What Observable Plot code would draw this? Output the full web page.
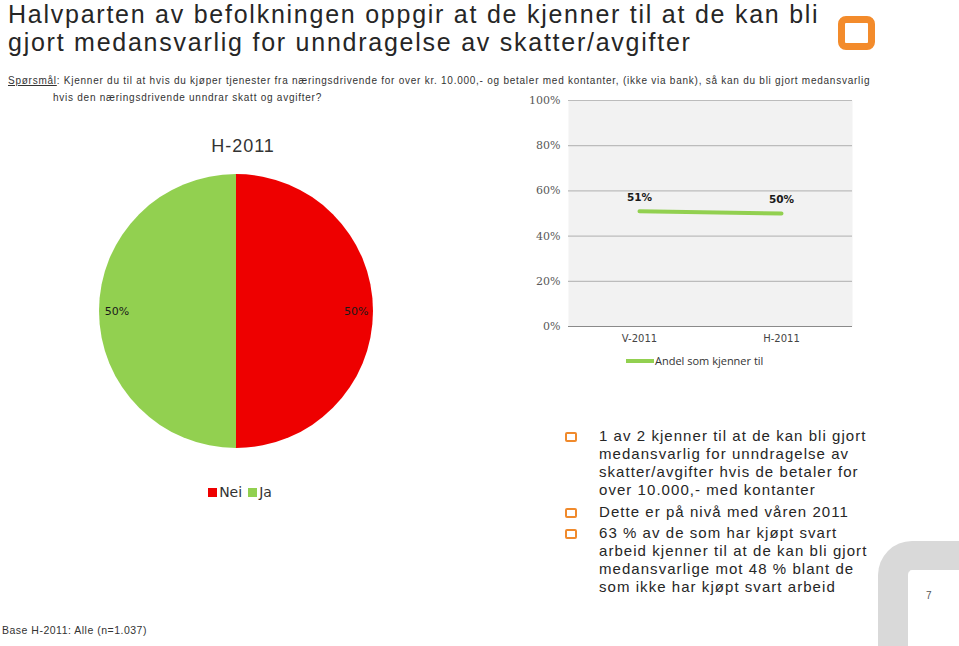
<!DOCTYPE html>
<html>
<head>
<meta charset="utf-8">
<script src="https://cdn.jsdelivr.net/npm/d3@7"></script>
<script src="https://cdn.jsdelivr.net/npm/@observablehq/plot@0.6"></script>
<style>
  html, body { margin: 0; padding: 0; background: #fff; }
  #page { position: relative; width: 959px; height: 646px; overflow: hidden; background: #fff; font-family: "Liberation Sans", Arial, sans-serif; color: #262626; }
  .abs { position: absolute; }
  #title { left: 8px; top: 0px; font-size: 25px; line-height: 28px; letter-spacing: 1.75px; color: #262626; white-space: nowrap; }
  #question { left: 8px; top: 72px; font-size: 10px; line-height: 17px; letter-spacing: 0.75px; color: #333; white-space: nowrap; }
  #question .q2 { padding-left: 45px; }
  #logo { left: 838px; top: 16px; width: 23px; height: 20px; border: 7px solid #f38b2b; border-radius: 8px; }
  #pieTitle { left: 163px; top: 136px; width: 160px; text-align: center; font-size: 18px; letter-spacing: 1px; color: #333; }
  #pieLegend { left: 190px; top: 484px; width: 100px; text-align: center; font-family: "DejaVu Sans", sans-serif; font-size: 14px; color: #333; white-space: nowrap; }
  .sw { display: inline-block; width: 9px; height: 9px; margin-right: 2px; }
  #lineLegend { left: 626px; top: 353px; font-family: "Open Sans", sans-serif; font-size: 11px; color: #333; white-space: nowrap; }
  #lineLegend .ln { display: inline-block; width: 28px; height: 4px; background: #92d050; vertical-align: middle; margin-right: 1px; position: relative; top: -1px; }
  #bullets { left: 563px; top: 427px; width: 370px; font-size: 15px; line-height: 18px; letter-spacing: 1.05px; color: #262626; white-space: nowrap; }
  .b { position: relative; padding-left: 36px; margin-bottom: 3.5px; }
  .b::before { content: ""; position: absolute; left: 2px; top: 5px; width: 8px; height: 6px; border: 2.5px solid #f08a2c; border-radius: 2px; }
  #corner { left: 878px; top: 541px; width: 81px; height: 105px; box-sizing: border-box; border-left: 30px solid #d9d9d9; border-top: 29px solid #d9d9d9; border-top-left-radius: 34px; }
  #pagenum { left: 926px; top: 590px; font-size: 10px; color: #555; }
  #base { left: 2px; top: 624px; font-size: 10.5px; letter-spacing: 0.5px; color: #333; white-space: nowrap; }
  #pie { left: 86px; top: 160px; }
  #line { left: 510px; top: 88px; }
</style>
</head>
<body>
<div id="page">
  <div id="title" class="abs">Halvparten av befolkningen oppgir at de kjenner til at de kan bli<br>gjort medansvarlig for unndragelse av skatter/avgifter</div>
  <div id="logo" class="abs"></div>
  <div id="question" class="abs"><div><u>Spørsmål</u>: Kjenner du til at hvis du kjøper tjenester fra næringsdrivende for over kr. 10.000,- og betaler med kontanter, (ikke via bank), så kan du bli gjort medansvarlig</div><div class="q2">hvis den næringsdrivende unndrar skatt og avgifter?</div></div>
  <div id="pieTitle" class="abs">H-2011</div>
  <div id="pie" class="abs"></div>
  <div id="pieLegend" class="abs"></div>
  <div id="line" class="abs"></div>
  <div id="lineLegend" class="abs"><span class="ln"></span>Andel som kjenner til</div>
  <div id="bullets" class="abs"></div>
  <div id="corner" class="abs"></div>
  <div id="pagenum" class="abs">7</div>
  <div id="base" class="abs">Base H-2011: Alle (n=1.037)</div>
</div>
<script>
// ---- Data ----
const pieAnswers = ["Nei", "Ja"];
const pieShares = [50, 50];
const pieColors = ["#ee0000", "#92d050"];

const periods = ["V-2011", "H-2011"];
const knowShares = [51, 50];
const lineSeriesName = "Andel som kjenner til";
const yTicks = [0, 20, 40, 60, 80, 100];

const bulletLines = [
  ["1 av 2 kjenner til at de kan bli gjort", "medansvarlig for unndragelse av", "skatter/avgifter hvis de betaler for", "over 10.000,- med kontanter"],
  ["Dette er på nivå med våren 2011"],
  ["63 % av de som har kjøpt svart", "arbeid kjenner til at de kan bli gjort", "medansvarlige mot 48 % blant de", "som ikke har kjøpt svart arbeid"]
];

// ---- Pie ----
const pieData = pieAnswers.map((a, i) => ({answer: a, share: pieShares[i]}));
const arcs = d3.pie().sort(null).value(d => d.share)(pieData);
const labelData = arcs.map(a => {
  const mid = (a.startAngle + a.endAngle) / 2;
  return {answer: a.data.answer, share: a.data.share, lx: 0.873 * Math.sin(mid), ly: 0.873 * Math.cos(mid)};
});

const pieFn = (index, scales) => {
  const sx = scales.x, sy = scales.y;
  const cx = sx(0), cy = sy(0);
  const r = Math.abs(sx(1) - sx(0));
  const color = scales.color || d3.scaleOrdinal(pieAnswers, pieColors);
  const g = d3.create("svg:g").attr("transform", `translate(${cx},${cy})`);
  const arcGen = d3.arc().innerRadius(0).outerRadius(r);
  g.selectAll("path").data(arcs).join("path")
    .attr("d", arcGen)
    .attr("fill", d => color(d.data.answer));
  return g.node();
};

const piePlot = Plot.plot({
  width: 300, height: 302,
  margin: 0,
  x: {domain: [-1, 1], range: [13, 287], axis: null},
  y: {domain: [-1, 1], range: [288, 14], axis: null},
  color: {domain: pieAnswers, range: pieColors},
  style: {background: "transparent", overflow: "visible"},
  marks: [
    Plot.dot(labelData, {x: () => 0, y: () => 0, fill: "answer", r: 0}),
    pieFn,
    Plot.text(labelData, {x: "lx", y: "ly", text: d => d.share + "%", fill: "#1a1a1a", fontSize: 11, fontFamily: "DejaVu Sans, sans-serif"})
  ]
});
document.getElementById("pie").appendChild(piePlot);

const pl = document.getElementById("pieLegend");
pieAnswers.forEach((a, i) => {
  const s = document.createElement("span");
  s.innerHTML = `<span class="sw" style="background:${pieColors[i]}"></span>${a}`;
  s.style.marginRight = i < pieAnswers.length - 1 ? "6px" : "0";
  pl.appendChild(s);
});

// ---- Line chart ----
const lineData = periods.map((p, i) => ({period: p, share: knowShares[i]}));
const linePlot = Plot.plot({
  width: 350, height: 290,
  marginLeft: 58, marginRight: 8, marginTop: 12, marginBottom: 52,
  x: {type: "point", domain: periods, padding: 0.5, label: null, tickSize: 0, tickPadding: 8},
  y: {domain: [0, 100], ticks: yTicks, tickFormat: d => d + "%", label: null, tickSize: 0, tickPadding: 8},
  style: {background: "transparent", overflow: "visible"},
  marks: [
    Plot.frame({fill: "#f2f2f2", stroke: null}),
    Plot.ruleY(yTicks.filter(d => d > 0), {stroke: "#bcbcbc", strokeWidth: 1.2}),
    Plot.ruleY([0], {stroke: "#8a8a8a", strokeWidth: 1.2}),
    Plot.axisY({ticks: yTicks, tickFormat: d => d + "%", tickSize: 0, tickPadding: 8, label: null, fontFamily: "DejaVu Serif, serif", fontSize: 11, fill: "#595959"}),
    Plot.axisX({tickSize: 0, tickPadding: 8, label: null, fontFamily: "DejaVu Sans, sans-serif", fontSize: 10, fill: "#444"}),
    Plot.line(lineData, {x: "period", y: "share", stroke: "#92d050", strokeWidth: 4}),
    Plot.text(lineData, {x: "period", y: "share", text: d => d.share + "%", dy: -14, fontWeight: "bold", fontSize: 10.5, fontFamily: "DejaVu Sans, sans-serif", fill: "#1a1a1a"})
  ]
});
document.getElementById("line").appendChild(linePlot);
document.getElementById("lineLegend").lastChild.textContent = lineSeriesName;

// ---- Bullets ----
const bl = document.getElementById("bullets");
bulletLines.forEach(lines => {
  const d = document.createElement("div");
  d.className = "b";
  lines.forEach((t, i) => {
    if (i > 0) d.appendChild(document.createElement("br"));
    d.appendChild(document.createTextNode(t));
  });
  bl.appendChild(d);
});
</script>
</body>
</html>
